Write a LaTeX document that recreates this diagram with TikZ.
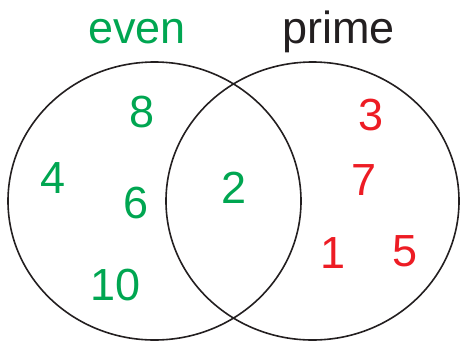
\documentclass[tikz,border=0pt]{standalone}
\usepackage{fontspec}
\setmainfont{Liberation Sans}
\usetikzlibrary{shapes.geometric,positioning}

\definecolor{evengreen}{RGB}{0,166,81}
\definecolor{primered}{RGB}{237,28,36}
\definecolor{inkblack}{RGB}{35,31,32}

\begin{document}
\begin{tikzpicture}[
  x=1pt, y=-1pt,
  set/.style={draw=inkblack, ellipse, line width=1.6pt, inner sep=0pt, minimum width=293pt, minimum height=278pt},
  num/.style={inner sep=0pt, font=\fontsize{45}{54}\selectfont},
  even/.style={num, text=evengreen},
  odd/.style={num, text=primered},
  ttl/.style={inner sep=0pt, anchor=base, font=\fontsize{45}{54}\selectfont}
]
\useasboundingbox (0,0) rectangle (460,341);

\node[set] (evenset) at (154.5,201) {};
\node[set] (primeset) at (312.5,201) {};

\node[ttl, text=evengreen] (evenlbl) at (137,43) {even};
\node[ttl, text=inkblack] (primelbl) at (338.5,43) {prime};

% even only
\node[even] (n8) at (142.5,112.5) {8};
\node[even] (n4) at (53.5,178.5) {4};
\node[even] (n6) at (136,203.5) {6};
\node[even] (n10) at (116,285) {10};
% both
\node[even] (n2) at (234,187.5) {2};
% prime only
\node[odd] (n3) at (371.5,115) {3};
\node[odd] (n7) at (364.5,180.5) {7};
\node[odd] (n1) at (333,253) {1};
\node[odd] (n5) at (405,251.5) {5};
\end{tikzpicture}
\end{document}
